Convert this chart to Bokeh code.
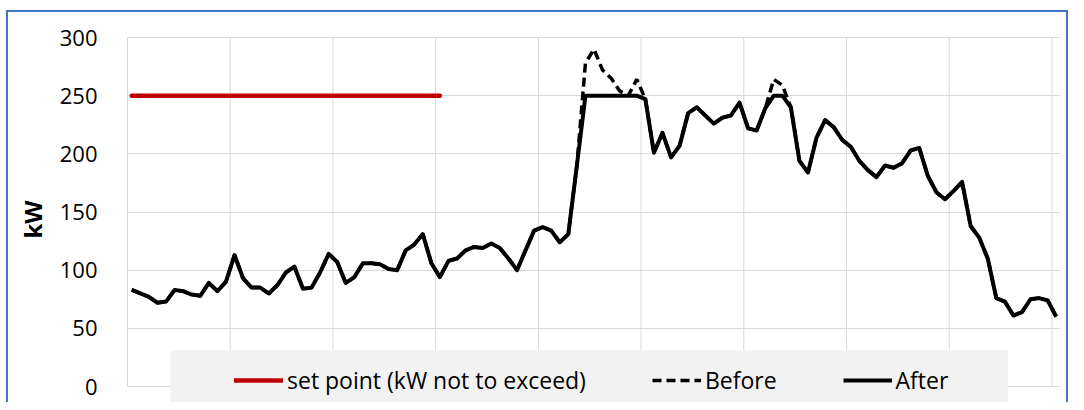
from bokeh.plotting import figure
from bokeh.models import Range1d, FixedTicker, Legend, LegendItem, BoxAnnotation
from bokeh.embed import file_html
from bokeh.resources import INLINE

# ---- data (kW per interval) ----
after_kw = [83, 80, 77, 72, 73, 83, 82, 79, 78, 89,
            82, 90, 113, 93, 85, 85, 80, 87, 98, 103,
            84, 85, 98, 114, 107, 89, 94, 106, 106, 105,
            101, 100, 117, 122, 131, 106, 94, 108, 110, 117,
            120, 119, 123, 119, 110, 100, 117, 134, 137, 134,
            124, 131, 190, 250, 250, 250, 250, 250, 250, 250,
            247, 201, 218, 197, 207, 235, 240, 233, 226, 231,
            233, 244, 222, 220, 239, 250, 250, 240, 194, 184,
            214, 229, 223, 212, 206, 194, 186, 180, 190, 188,
            192, 203, 205, 181, 167, 161, 168, 176, 138, 128,
            110, 76, 73, 61, 64, 75, 76, 74, 60]

before_kw = [83, 80, 77, 72, 73, 83, 82, 79, 78, 89,
             82, 90, 113, 93, 85, 85, 80, 87, 98, 103,
             84, 85, 98, 114, 107, 89, 94, 106, 106, 105,
             101, 100, 117, 122, 131, 106, 94, 108, 110, 117,
             120, 119, 123, 119, 110, 100, 117, 134, 137, 134,
             124, 131, 190, 278, 290, 272, 265, 254, 250, 264,
             247, 201, 218, 197, 207, 235, 240, 233, 226, 231,
             233, 244, 222, 220, 239, 264, 259, 240, 194, 184,
             214, 229, 223, 212, 206, 194, 186, 180, 190, 188,
             192, 203, 205, 181, 167, 161, 168, 176, 138, 128,
             110, 76, 73, 61, 64, 75, 76, 74, 60]

setpoint_kw = [250, 250, 250, 250, 250, 250, 250, 250, 250, 250,
               250, 250, 250, 250, 250, 250, 250, 250, 250, 250,
               250, 250, 250, 250, 250, 250, 250, 250, 250, 250,
               250, 250, 250, 250, 250, 250, 250]

y_ticks = [0, 50, 100, 150, 200, 250, 300]
grid_every = 12
labels = ["set point (kW not to exceed)", "Before", "After"]

n = len(after_kw)
x = [i + 0.5 for i in range(n)]

FONT = "Open Sans"
Y_START = -13.75
Y_END = 300.86

p = figure(width=1068, height=402, output_backend="svg", toolbar_location=None,
           x_range=Range1d(0, n), y_range=Range1d(Y_START, Y_END),
           x_axis_location=None,
           min_border_left=127, min_border_right=8, min_border_top=36, min_border_bottom=0)
p.outline_line_color = None
p.background_fill_color = "white"
p.border_fill_alpha = 0

# y axis
p.yaxis.ticker = FixedTicker(ticks=y_ticks)
p.yaxis.bounds = (y_ticks[0], y_ticks[-1])
p.yaxis.axis_line_color = "#D9D9D9"
p.yaxis.major_tick_line_color = None
p.yaxis.minor_tick_line_color = None
p.yaxis.major_label_standoff = 24
p.yaxis.major_label_text_font = FONT
p.yaxis.major_label_text_font_size = "22px"
p.yaxis.major_label_text_color = "black"
p.yaxis.axis_label = "kW"
p.yaxis.axis_label_text_font = FONT
p.yaxis.axis_label_text_font_size = "24px"
p.yaxis.axis_label_text_font_style = "bold"
p.yaxis.axis_label_text_color = "black"
p.yaxis.axis_label_standoff = 8

# grids
p.ygrid.ticker = FixedTicker(ticks=y_ticks)
p.ygrid.grid_line_color = "#D9D9D9"
p.ygrid.grid_line_width = 1
p.xgrid.visible = False

bounds = list(range(grid_every, n, grid_every))
p.segment(x0=bounds, y0=[y_ticks[0]] * len(bounds), x1=bounds, y1=[y_ticks[-1]] * len(bounds),
          line_color="#D9D9D9", line_width=1, level="underlay")

# series
r_set = p.line(x[:len(setpoint_kw)], setpoint_kw, line_color="#C00000", line_width=4.5,
               line_cap="round")
r_before = p.line(x, before_kw, line_color="black", line_width=3.5, line_dash="9 5")
r_after = p.line(x, after_kw, line_color="black", line_width=4, line_join="round")

# legend box (grey band overlapping the bottom of the plot)
box = BoxAnnotation(left=5.03, right=102.85, top=30.95, bottom=Y_START,
                    fill_color="#F2F2F2", fill_alpha=1.0, line_color=None)
p.add_layout(box)

legend = Legend(items=[LegendItem(label=labels[0], renderers=[r_set]),
                       LegendItem(label=labels[1], renderers=[r_before]),
                       LegendItem(label=labels[2], renderers=[r_after])],
                orientation="horizontal", location=(107, 6), padding=5, spacing=66,
                glyph_width=49, glyph_height=20, label_standoff=4,
                label_text_font=FONT, label_text_font_size="23px", label_text_color="black",
                background_fill_alpha=0, border_line_color=None, margin=0)
p.add_layout(legend)

blue = "#4472C4"
p.styles = {"background": (f"linear-gradient({blue},{blue}) 6px 10px / 2px 400px no-repeat, "
                           f"linear-gradient({blue},{blue}) 6px 10px / 1062px 2px no-repeat, "
                           f"linear-gradient({blue},{blue}) 1066px 10px / 2px 400px no-repeat, "
                           "#ffffff")}

open("out.html", "w").write(file_html(p, INLINE))
